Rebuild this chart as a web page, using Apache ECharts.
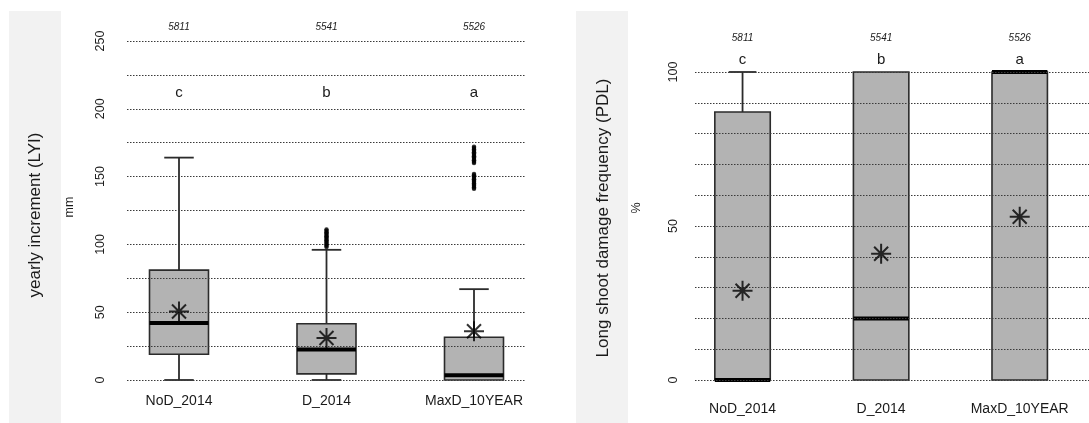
<!DOCTYPE html>
<html>
<head>
<meta charset="utf-8">
<script src="https://cdn.jsdelivr.net/npm/echarts@6/dist/echarts.min.js"></script>
<style>
  html, body { margin: 0; padding: 0; background: #fff; }
  #chart { width: 1089px; height: 423px; }
</style>
</head>
<body>
<div id="chart"></div>
<script>
// Groups and annotations shared by both panels
const categories = ['NoD_2014', 'D_2014', 'MaxD_10YEAR'];
const sampleSizes = ['5811', '5541', '5526'];
const lyiLetters = ['c', 'b', 'a'];
const pdlLetters = ['c', 'b', 'a'];

// Yearly increment (LYI), mm: whisker ends, quartiles, medians, means
const lyiLower = [0, 0, 0];
const lyiQ1 = [19, 4.5, 0];
const lyiMedian = [42, 22.5, 3.5];
const lyiQ3 = [81, 41.5, 31.5];
const lyiUpper = [164, 96, 67];
const lyiMean = [50.5, 31, 36];
// Outlying values above the upper whiskers
const lyiOutliersD2014 = [98, 99, 100, 101, 102, 103, 104, 105, 106, 107, 108, 109, 110, 111];
const lyiOutliersMaxD = [141, 142, 143, 144, 145, 146, 147, 148, 149, 150, 151, 152,
                         160, 161, 162, 163, 164, 165, 166, 167, 168, 169, 170, 171, 172];

// Long shoot damage frequency (PDL), %
const pdlLower = [0, 0, 0];
const pdlQ1 = [0, 0, 0];
const pdlMedian = [0, 20, 100];
const pdlQ3 = [87, 100, 100];
const pdlUpper = [100, 100, 100];
const pdlMean = [29, 41, 53];

const FONT = 'Liberation Sans, Arial, Helvetica, sans-serif';
const TEXT = '#1a1a1a';
const STAR = 'path://M10 0L10 20M0 10L20 10M3 3L17 17M3 17L17 3';

function boxData(lo, q1, med, q3, hi) {
  return categories.map((_, i) => [i, lo[i], q1[i], med[i], q3[i], hi[i]]);
}

function renderBox(params, api) {
  const i = api.value(0);
  const lo = api.value(1), q1 = api.value(2), med = api.value(3), q3 = api.value(4), hi = api.value(5);
  const band = api.size([1, 0])[0];
  const bw = band * 0.4, cw = band * 0.2;
  const pLo = api.coord([i, lo]), pQ1 = api.coord([i, q1]);
  const pMed = api.coord([i, med]), pQ3 = api.coord([i, q3]), pHi = api.coord([i, hi]);
  const x = pMed[0];
  const whisker = { stroke: '#2b2b2b', lineWidth: 1.8 };
  const children = [];
  if (hi > q3) {
    children.push({ type: 'line', shape: { x1: x, y1: pQ3[1], x2: x, y2: pHi[1] }, style: whisker });
    children.push({ type: 'line', shape: { x1: x - cw / 2, y1: pHi[1], x2: x + cw / 2, y2: pHi[1] }, style: whisker });
  }
  if (lo < q1) {
    children.push({ type: 'line', shape: { x1: x, y1: pQ1[1], x2: x, y2: pLo[1] }, style: whisker });
    children.push({ type: 'line', shape: { x1: x - cw / 2, y1: pLo[1], x2: x + cw / 2, y2: pLo[1] }, style: whisker });
  }
  children.push({
    type: 'rect',
    shape: { x: x - bw / 2, y: pQ3[1], width: bw, height: pQ1[1] - pQ3[1] },
    style: { fill: '#b3b3b3', stroke: '#2b2b2b', lineWidth: 1.6 }
  });
  children.push({
    type: 'line',
    shape: { x1: x - bw / 2, y1: pMed[1], x2: x + bw / 2, y2: pMed[1] },
    style: { stroke: '#000', lineWidth: 4 }
  });
  return { type: 'group', children };
}

function valueAxis(gridIndex, max, labelMargin) {
  return {
    gridIndex, type: 'value', min: 0, max, interval: max === 250 ? 25 : 10, z: 3,
    axisLine: { show: false }, axisTick: { show: false },
    axisLabel: {
      rotate: 90, margin: labelMargin, color: TEXT, fontFamily: FONT, fontSize: 12.5,
      formatter: v => (v % 50 === 0 ? String(v) : '')
    },
    splitLine: { show: true, lineStyle: { color: '#3a3a3a', width: 1, type: [1.5, 1.5] } }
  };
}

function hiddenValueAxis(gridIndex, max) {
  return { gridIndex, type: 'value', min: 0, max, show: false };
}

function categoryAxis(gridIndex, data, position, margin, italic, size) {
  return {
    gridIndex, type: 'category', data, position,
    axisLine: { show: false }, axisTick: { show: false }, splitLine: { show: false },
    axisLabel: {
      margin, color: TEXT, fontFamily: FONT, fontSize: size,
      fontStyle: italic ? 'italic' : 'normal', interval: 0
    }
  };
}

function pointSeries(xIdx, yIdx, data, symbol, size, style) {
  return {
    type: 'scatter', xAxisIndex: xIdx, yAxisIndex: yIdx, data, symbol, symbolSize: size,
    symbolKeepAspect: true, itemStyle: style, z: 4, silent: true, clip: false
  };
}

const lyiOutliers = lyiOutliersD2014.map(v => [1, v]).concat(lyiOutliersMaxD.map(v => [2, v]));
const starStyle = { color: 'rgba(0,0,0,0)', borderColor: '#000', borderWidth: 2 };

const chart = echarts.init(document.getElementById('chart'), null, { renderer: 'canvas' });

const option = {
  animation: false,
  backgroundColor: '#fff',
  grid: [
    { left: 127, top: 41, width: 398, height: 339 },
    { left: 105.25, top: 41, width: 442.5, height: 339 },
    { left: 695, top: 72, width: 398, height: 308 },
    { left: 673.25, top: 72, width: 442.5, height: 308 }
  ],
  xAxis: [
    { gridIndex: 0, type: 'value', min: 0, max: 1, show: false },
    categoryAxis(1, categories, 'bottom', 14, false, 14),
    categoryAxis(1, sampleSizes, 'top', 9, true, 10),
    { gridIndex: 2, type: 'value', min: 0, max: 1, show: false },
    categoryAxis(3, categories, 'bottom', 22, false, 14),
    categoryAxis(3, sampleSizes, 'top', 29, true, 10)
  ],
  yAxis: [
    valueAxis(0, 250, 20),
    hiddenValueAxis(1, 250),
    valueAxis(2, 100, 15),
    hiddenValueAxis(3, 100)
  ],
  series: [
    {
      type: 'custom', name: 'LYI', xAxisIndex: 1, yAxisIndex: 1, z: 2,
      renderItem: renderBox, data: boxData(lyiLower, lyiQ1, lyiMedian, lyiQ3, lyiUpper)
    },
    pointSeries(1, 1, lyiOutliers, 'circle', 4.5, { color: '#000' }),
    pointSeries(1, 1, lyiMean.map((v, i) => [i, v]), STAR, 20, starStyle),
    {
      type: 'custom', name: 'PDL', xAxisIndex: 4, yAxisIndex: 3, z: 2,
      renderItem: renderBox, data: boxData(pdlLower, pdlQ1, pdlMedian, pdlQ3, pdlUpper)
    },
    pointSeries(4, 3, pdlMean.map((v, i) => [i, v]), STAR, 20, starStyle)
  ]
};

chart.setOption(option);

// Side title strips, axis titles, units and group letters
function vText(text, x, y, size) {
  return {
    type: 'text', x, y, rotation: Math.PI / 2, z: 10,
    style: { text, fill: TEXT, font: size + 'px ' + FONT, textAlign: 'center', textVerticalAlign: 'middle' }
  };
}

const graphics = [
  { type: 'rect', shape: { x: 9, y: 11, width: 52, height: 412 }, style: { fill: '#f2f2f2' }, z: -10 },
  { type: 'rect', shape: { x: 576, y: 11, width: 52, height: 412 }, style: { fill: '#f2f2f2' }, z: -10 },
  vText('yearly increment (LYI)', 35, 215, 17),
  vText('mm', 70, 207, 12.5),
  vText('Long shoot damage frequency (PDL)', 603, 218, 17),
  vText('%', 637, 208, 12.5)
];

categories.forEach((c, i) => {
  const xl = chart.convertToPixel({ xAxisIndex: 1 }, i);
  const xr = chart.convertToPixel({ xAxisIndex: 4 }, i);
  graphics.push({
    type: 'text', x: xl, y: 93, z: 10,
    style: { text: lyiLetters[i], fill: TEXT, font: '15px ' + FONT, textAlign: 'center', textVerticalAlign: 'middle' }
  });
  graphics.push({
    type: 'text', x: xr, y: 60, z: 10,
    style: { text: pdlLetters[i], fill: TEXT, font: '15px ' + FONT, textAlign: 'center', textVerticalAlign: 'middle' }
  });
});

chart.setOption({ graphic: graphics });
</script>
</body>
</html>
